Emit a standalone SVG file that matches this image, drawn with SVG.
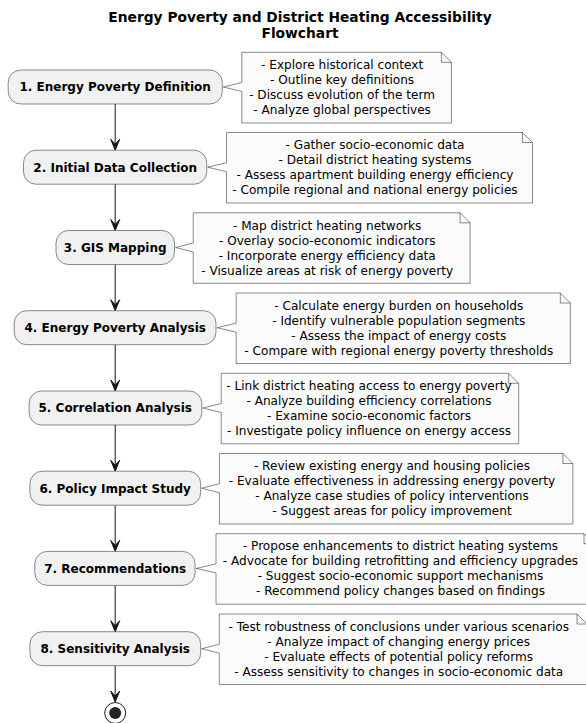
<svg xmlns="http://www.w3.org/2000/svg" width="586" height="723" viewBox="0 0 586 723">
<defs>
<style>
.bg{fill:#FFFFFF}
.title{font-family:"DejaVu Sans","Liberation Sans",sans-serif;font-size:13.8px;font-weight:bold;text-anchor:middle;fill:#000}
.node rect{fill:#F1F1F1;stroke:#181818;stroke-width:0.5}
.node text{font-family:"DejaVu Sans","Liberation Sans",sans-serif;font-size:12px;font-weight:bold;text-anchor:middle;fill:#000}
.note path.body{fill:#FBFBFB;stroke:#181818;stroke-width:0.5}
.note path.fold{fill:none;stroke:#181818;stroke-width:0.5}
.note text{font-family:"DejaVu Sans","Liberation Sans",sans-serif;font-size:12.1px;text-anchor:middle;fill:#000}
.edge line{stroke:#181818;stroke-width:1}
.edge polygon{fill:#181818;stroke:#181818;stroke-width:1}
</style>
</defs>
<rect class="bg" x="0" y="0" width="586" height="723"/>
<g id="title">
<text class="title" x="300" y="21.7">Energy Poverty and District Heating Accessibility</text>
<text class="title" x="300" y="37.5">Flowchart</text>
</g>
<g id="connectors" class="edge">
<line x1="115.2" y1="104" x2="115.2" y2="146"/>
<polygon points="110.7,139.2 115.2,150.2 119.7,139.2 115.2,144.2"/>
<line x1="115.2" y1="184.2" x2="115.2" y2="226"/>
<polygon points="110.7,219.5 115.2,230.5 119.7,219.5 115.2,224.5"/>
<line x1="115.2" y1="264.5" x2="115.2" y2="306"/>
<polygon points="110.7,299.7 115.2,310.7 119.7,299.7 115.2,304.7"/>
<line x1="115.2" y1="344.7" x2="115.2" y2="387"/>
<polygon points="110.7,380 115.2,391 119.7,380 115.2,385"/>
<line x1="115.2" y1="425" x2="115.2" y2="467"/>
<polygon points="110.7,460.2 115.2,471.2 119.7,460.2 115.2,465.2"/>
<line x1="115.2" y1="505.2" x2="115.2" y2="547"/>
<polygon points="110.7,540.4 115.2,551.4 119.7,540.4 115.2,545.4"/>
<line x1="115.2" y1="585.4" x2="115.2" y2="627"/>
<polygon points="110.7,620.7 115.2,631.7 119.7,620.7 115.2,625.7"/>
<line x1="115.2" y1="665.7" x2="115.2" y2="698"/>
<polygon points="110.7,691 115.2,702 119.7,691 115.2,696"/>
</g>
<g id="n1" class="node"><rect x="8.2" y="70" width="214.1" height="34" rx="12.5" ry="12.5"/><text x="115.2" y="91.3">1. Energy Poverty Definition</text></g>
<g id="n2" class="node"><rect x="23.5" y="150.2" width="183.2" height="34" rx="12.5" ry="12.5"/><text x="115.2" y="171.5">2. Initial Data Collection</text></g>
<g id="n3" class="node"><rect x="56" y="230.5" width="118.5" height="34" rx="12.5" ry="12.5"/><text x="115.2" y="251.8">3. GIS Mapping</text></g>
<g id="n4" class="node"><rect x="14.2" y="310.7" width="201.8" height="34" rx="12.5" ry="12.5"/><text x="115.2" y="332">4. Energy Poverty Analysis</text></g>
<g id="n5" class="node"><rect x="29.1" y="391" width="172.7" height="34" rx="12.5" ry="12.5"/><text x="115.2" y="412.3">5. Correlation Analysis</text></g>
<g id="n6" class="node"><rect x="29.9" y="471.2" width="170.8" height="34" rx="12.5" ry="12.5"/><text x="115.2" y="492.5">6. Policy Impact Study</text></g>
<g id="n7" class="node"><rect x="34.8" y="551.4" width="160.3" height="34" rx="12.5" ry="12.5"/><text x="115.2" y="572.7">7. Recommendations</text></g>
<g id="n8" class="node"><rect x="29.9" y="631.7" width="170.8" height="34" rx="12.5" ry="12.5"/><text x="115.2" y="653">8. Sensitivity Analysis</text></g>
<g id="end"><circle cx="115.2" cy="713" r="10.5" fill="none" stroke="#222222" stroke-width="1"/><circle cx="115.2" cy="713" r="6" fill="#222222"/></g>
<g id="note1" class="note">
<path class="body" d="M241.8,52.3 H441.4 L451.4,62.3 V123 H241.8 V91.5 L223.3,87 L241.8,82.5 Z"/>
<path class="fold" d="M441.4,52.3 V62.3 H451.4"/>
<text><tspan x="342.1" y="69">- Explore historical context</tspan><tspan x="342.1" y="84">- Outline key definitions</tspan><tspan x="342.1" y="99">- Discuss evolution of the term</tspan><tspan x="342.1" y="114">- Analyze global perspectives</tspan></text>
</g>
<g id="note2" class="note">
<path class="body" d="M226.5,132.5 H522.5 L532.5,142.5 V203 H226.5 V171.7 L207.7,167.2 L226.5,162.7 Z"/>
<path class="fold" d="M522.5,132.5 V142.5 H532.5"/>
<text><tspan x="375" y="149.2">- Gather socio-economic data</tspan><tspan x="375" y="164.2">- Detail district heating systems</tspan><tspan x="375" y="179.2">- Assess apartment building energy efficiency</tspan><tspan x="375" y="194.2">- Compile regional and national energy policies</tspan></text>
</g>
<g id="note3" class="note">
<path class="body" d="M193.2,212.8 H460.1 L470.1,222.8 V283.3 H193.2 V252 L175.5,247.5 L193.2,243 Z"/>
<path class="fold" d="M460.1,212.8 V222.8 H470.1"/>
<text><tspan x="327.2" y="229.5">- Map district heating networks</tspan><tspan x="327.2" y="244.5">- Overlay socio-economic indicators</tspan><tspan x="327.2" y="259.5">- Incorporate energy efficiency data</tspan><tspan x="327.2" y="274.5">- Visualize areas at risk of energy poverty</tspan></text>
</g>
<g id="note4" class="note">
<path class="body" d="M236.2,293 H560.3 L570.3,303 V363.5 H236.2 V332.2 L217,327.7 L236.2,323.2 Z"/>
<path class="fold" d="M560.3,293 V303 H570.3"/>
<text><tspan x="398.8" y="309.7">- Calculate energy burden on households</tspan><tspan x="398.8" y="324.7">- Identify vulnerable population segments</tspan><tspan x="398.8" y="339.7">- Assess the impact of energy costs</tspan><tspan x="398.8" y="354.7">- Compare with regional energy poverty thresholds</tspan></text>
</g>
<g id="note5" class="note">
<path class="body" d="M221.2,373.3 H508.7 L518.7,383.3 V443.8 H221.2 V412.5 L202.8,408 L221.2,403.5 Z"/>
<path class="fold" d="M508.7,373.3 V383.3 H518.7"/>
<text><tspan x="369" y="390">- Link district heating access to energy poverty</tspan><tspan x="369" y="405">- Analyze building efficiency correlations</tspan><tspan x="369" y="420">- Examine socio-economic factors</tspan><tspan x="369" y="435">- Investigate policy influence on energy access</tspan></text>
</g>
<g id="note6" class="note">
<path class="body" d="M219.4,453.5 H562.9 L572.9,463.5 V524 H219.4 V492.7 L201.7,488.2 L219.4,483.7 Z"/>
<path class="fold" d="M562.9,453.5 V463.5 H572.9"/>
<text><tspan x="392" y="470.2">- Review existing energy and housing policies</tspan><tspan x="392" y="485.2">- Evaluate effectiveness in addressing energy poverty</tspan><tspan x="392" y="500.2">- Analyze case studies of policy interventions</tspan><tspan x="392" y="515.2">- Suggest areas for policy improvement</tspan></text>
</g>
<g id="note7" class="note">
<path class="body" d="M216,533.7 H584 L594,543.7 V604.2 H216 V572.9 L196.1,568.4 L216,563.9 Z"/>
<path class="fold" d="M584,533.7 V543.7 H594"/>
<text><tspan x="400.5" y="550.4">- Propose enhancements to district heating systems</tspan><tspan x="400.5" y="565.4">- Advocate for building retrofitting and efficiency upgrades</tspan><tspan x="400.5" y="580.4">- Suggest socio-economic support mechanisms</tspan><tspan x="400.5" y="595.4">- Recommend policy changes based on findings</tspan></text>
</g>
<g id="note8" class="note">
<path class="body" d="M219.3,614 H577 L587,624 V684.5 H219.3 V653.2 L201.7,648.7 L219.3,644.2 Z"/>
<path class="fold" d="M577,614 V624 H587"/>
<text><tspan x="398.7" y="630.7">- Test robustness of conclusions under various scenarios</tspan><tspan x="398.7" y="645.7">- Analyze impact of changing energy prices</tspan><tspan x="398.7" y="660.7">- Evaluate effects of potential policy reforms</tspan><tspan x="398.7" y="675.7">- Assess sensitivity to changes in socio-economic data</tspan></text>
</g>
</svg>
